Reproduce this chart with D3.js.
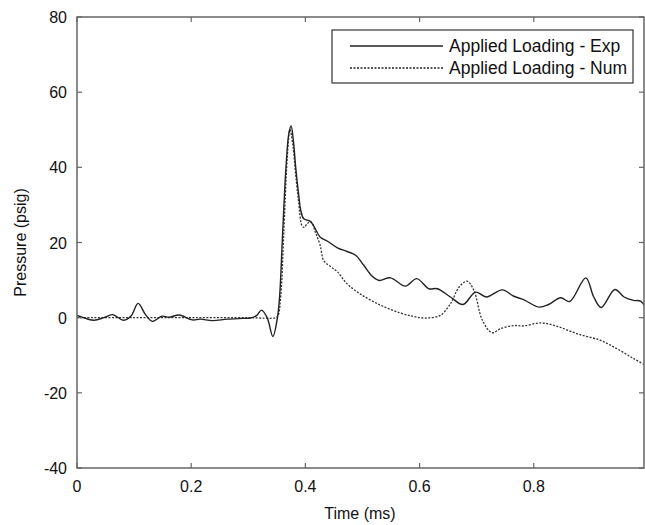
<!DOCTYPE html>
<html>
<head>
<meta charset="utf-8">
<script src="https://cdnjs.cloudflare.com/ajax/libs/d3/7.8.5/d3.min.js"></script>
<style>
body { margin: 0; background: #fff; }
svg { display: block; font-family: "Liberation Sans", Arial, sans-serif; }
</style>
</head>
<body>
<svg id="chart" width="645" height="525"></svg>
<script>
// time (ms) / pressure (psig)
var expTime = [0, 0.015, 0.030, 0.047, 0.062, 0.082, 0.095, 0.107, 0.120, 0.132, 0.149, 0.161, 0.179, 0.202, 0.216, 0.237, 0.263, 0.290, 0.304, 0.315, 0.323, 0.333, 0.343, 0.351,
  0.355, 0.360, 0.366, 0.371, 0.375, 0.379, 0.383, 0.388, 0.392, 0.397, 0.408, 0.415, 0.426, 0.438, 0.456, 0.473, 0.488, 0.502, 0.517, 0.529,
  0.549, 0.575, 0.595, 0.616, 0.631, 0.654, 0.676, 0.698, 0.717, 0.745, 0.765, 0.782, 0.809, 0.826, 0.847, 0.863, 0.891, 0.905, 0.918, 0.942,
  0.958, 0.975, 0.987, 0.996];
var expPressure = [0.6, -0.2, -0.7, 0, 0.8, -0.7, 0.5, 3.8, 0.8, -1.0, 0.4, 0.1, 0.7, -0.6, -0.4, -0.8, -0.4, -0.2, -0.1, 0.6, 2.0, 0, -5.0, 0,
  6, 22, 40, 49, 51, 47, 40, 33, 28.5, 26.3, 25.7, 24.3, 21.4, 20.4, 18.6, 17.6, 16.6, 14.0, 11.0, 9.9,
  10.6, 8.4, 10.4, 7.7, 7.7, 5.5, 3.5, 6.8, 5.5, 7.4, 5.7, 4.8, 2.8, 3.5, 5.3, 4.3, 10.6, 5.5, 2.7, 7.5,
  5.5, 4.6, 4.4, 2.7];

var numTime = [0, 0.1, 0.2, 0.3, 0.348, 0.352, 0.357, 0.362, 0.368, 0.373, 0.378, 0.383, 0.388, 0.394, 0.398, 0.403, 0.410, 0.418, 0.426, 0.432, 0.444, 0.456,
  0.473, 0.497, 0.532, 0.567, 0.590, 0.610, 0.636, 0.654, 0.669, 0.683, 0.695, 0.710, 0.727, 0.742, 0.765, 0.782, 0.812, 0.841, 0.876, 0.916,
  0.946, 0.975, 0.996];
var numPressure = [0, 0, 0, 0, 0, 0.5, 6, 22, 42, 50, 46, 38, 31, 24.5, 24.0, 25.0, 25.5, 22.5, 19.2, 15.2, 13.6, 12.2,
  9.0, 6.2, 3.3, 1.2, 0.3, -0.1, 0.6, 3.7, 8.1, 9.7, 7.3, -0.7, -4.0, -2.9, -2.1, -2.2, -1.4, -2.3, -4.3, -6.0,
  -8.3, -10.9, -12.7];

var xTicks = [0, 0.2, 0.4, 0.6, 0.8];
var yTicks = [-40, -20, 0, 20, 40, 60, 80];
var legendLabels = ["Applied Loading - Exp", "Applied Loading - Num"];

var plotLeft = 77, plotRight = 644, plotTop = 17, plotBottom = 468;

var svg = d3.select("#chart");

var x = d3.scaleLinear()
.domain([0, 0.993])
.range([plotLeft, plotRight]);

var y = d3.scaleLinear()
.domain([-40, 80])
.range([plotBottom, plotTop]);

var axisColor = "#666";

svg.append("defs").append("clipPath")
.attr("id", "clip")
.append("rect")
.attr("x", plotLeft).attr("y", plotTop)
.attr("width", plotRight - plotLeft).attr("height", plotBottom - plotTop);

var line = d3.line()
.x(function (d) { return x(d[0]); })
.y(function (d) { return y(d[1]); })
.curve(d3.curveCatmullRom.alpha(0.5));

var expData = expTime.map(function (t, i) { return [t, expPressure[i]]; });
var numData = numTime.map(function (t, i) { return [t, numPressure[i]]; });

var plot = svg.append("g").attr("clip-path", "url(#clip)");

plot.append("path")
.datum(numData)
.attr("d", line)
.attr("fill", "none")
.attr("stroke", "#333")
.attr("stroke-width", 1.3)
.attr("stroke-dasharray", "2,1.5");

plot.append("path")
.datum(expData)
.attr("d", line)
.attr("fill", "none")
.attr("stroke", "#222")
.attr("stroke-width", 1.4);

// box + mirrored inward ticks
svg.append("rect")
.attr("x", plotLeft).attr("y", plotTop)
.attr("width", plotRight - plotLeft).attr("height", plotBottom - plotTop)
.attr("fill", "none")
.attr("stroke", axisColor)
.attr("stroke-width", 1.5);

var tickLen = 5;

svg.selectAll("line.xtick")
.data(xTicks.concat(xTicks))
.enter().append("line")
.attr("class", "xtick")
.attr("x1", function (d) { return x(d); })
.attr("x2", function (d) { return x(d); })
.attr("y1", function (d, i) { return i < xTicks.length ? plotBottom : plotTop; })
.attr("y2", function (d, i) { return i < xTicks.length ? plotBottom - tickLen : plotTop + tickLen; })
.attr("stroke", axisColor)
.attr("stroke-width", 1.2);

svg.selectAll("line.ytick")
.data(yTicks.concat(yTicks))
.enter().append("line")
.attr("class", "ytick")
.attr("y1", function (d) { return y(d); })
.attr("y2", function (d) { return y(d); })
.attr("x1", function (d, i) { return i < yTicks.length ? plotLeft : plotRight; })
.attr("x2", function (d, i) { return i < yTicks.length ? plotLeft + tickLen : plotRight - tickLen; })
.attr("stroke", axisColor)
.attr("stroke-width", 1.2);

svg.selectAll("text.xlabel")
.data(xTicks)
.enter().append("text")
.attr("class", "xlabel")
.attr("x", function (d) { return x(d); })
.attr("y", plotBottom + 24)
.attr("text-anchor", "middle")
.attr("font-size", "16px")
.attr("fill", "#111")
.text(function (d) { return d; });

svg.selectAll("text.ylabel")
.data(yTicks)
.enter().append("text")
.attr("class", "ylabel")
.attr("x", plotLeft - 10)
.attr("y", function (d) { return y(d) + 6; })
.attr("text-anchor", "end")
.attr("font-size", "16px")
.attr("fill", "#111")
.text(function (d) { return d; });

svg.append("text")
.attr("x", 360)
.attr("y", 525 - 6)
.attr("text-anchor", "middle")
.attr("font-size", "16px")
.attr("fill", "#111")
.text("Time (ms)");

svg.append("text")
.attr("transform", "translate(26," + ((plotTop + plotBottom) / 2) + ")rotate(-90)")
.attr("text-anchor", "middle")
.attr("font-size", "16px")
.attr("fill", "#111")
.text("Pressure (psig)");

// legend
var legend = svg.append("g").attr("class", "legend");

legend.append("rect")
.attr("x", 332).attr("y", 30)
.attr("width", 301).attr("height", 53)
.attr("fill", "#fff")
.attr("stroke", "#333")
.attr("stroke-width", 1.2);

var rows = legend.selectAll("g.row")
.data(legendLabels)
.enter().append("g")
.attr("class", "row")
.attr("transform", function (d, i) { return "translate(0," + (46 + i * 22) + ")"; });

rows.append("line")
.attr("x1", 350).attr("x2", 443)
.attr("y1", 0).attr("y2", 0)
.attr("stroke", "#222")
.attr("stroke-width", function (d, i) { return i == 0 ? 1.4 : 1.3; })
.attr("stroke-dasharray", function (d, i) { return i == 0 ? null : "2,1.5"; });

rows.append("text")
.attr("x", 449)
.attr("y", 6)
.attr("font-size", "17.5px")
.attr("fill", "#111")
.text(function (d) { return d; });
</script>
</body>
</html>
